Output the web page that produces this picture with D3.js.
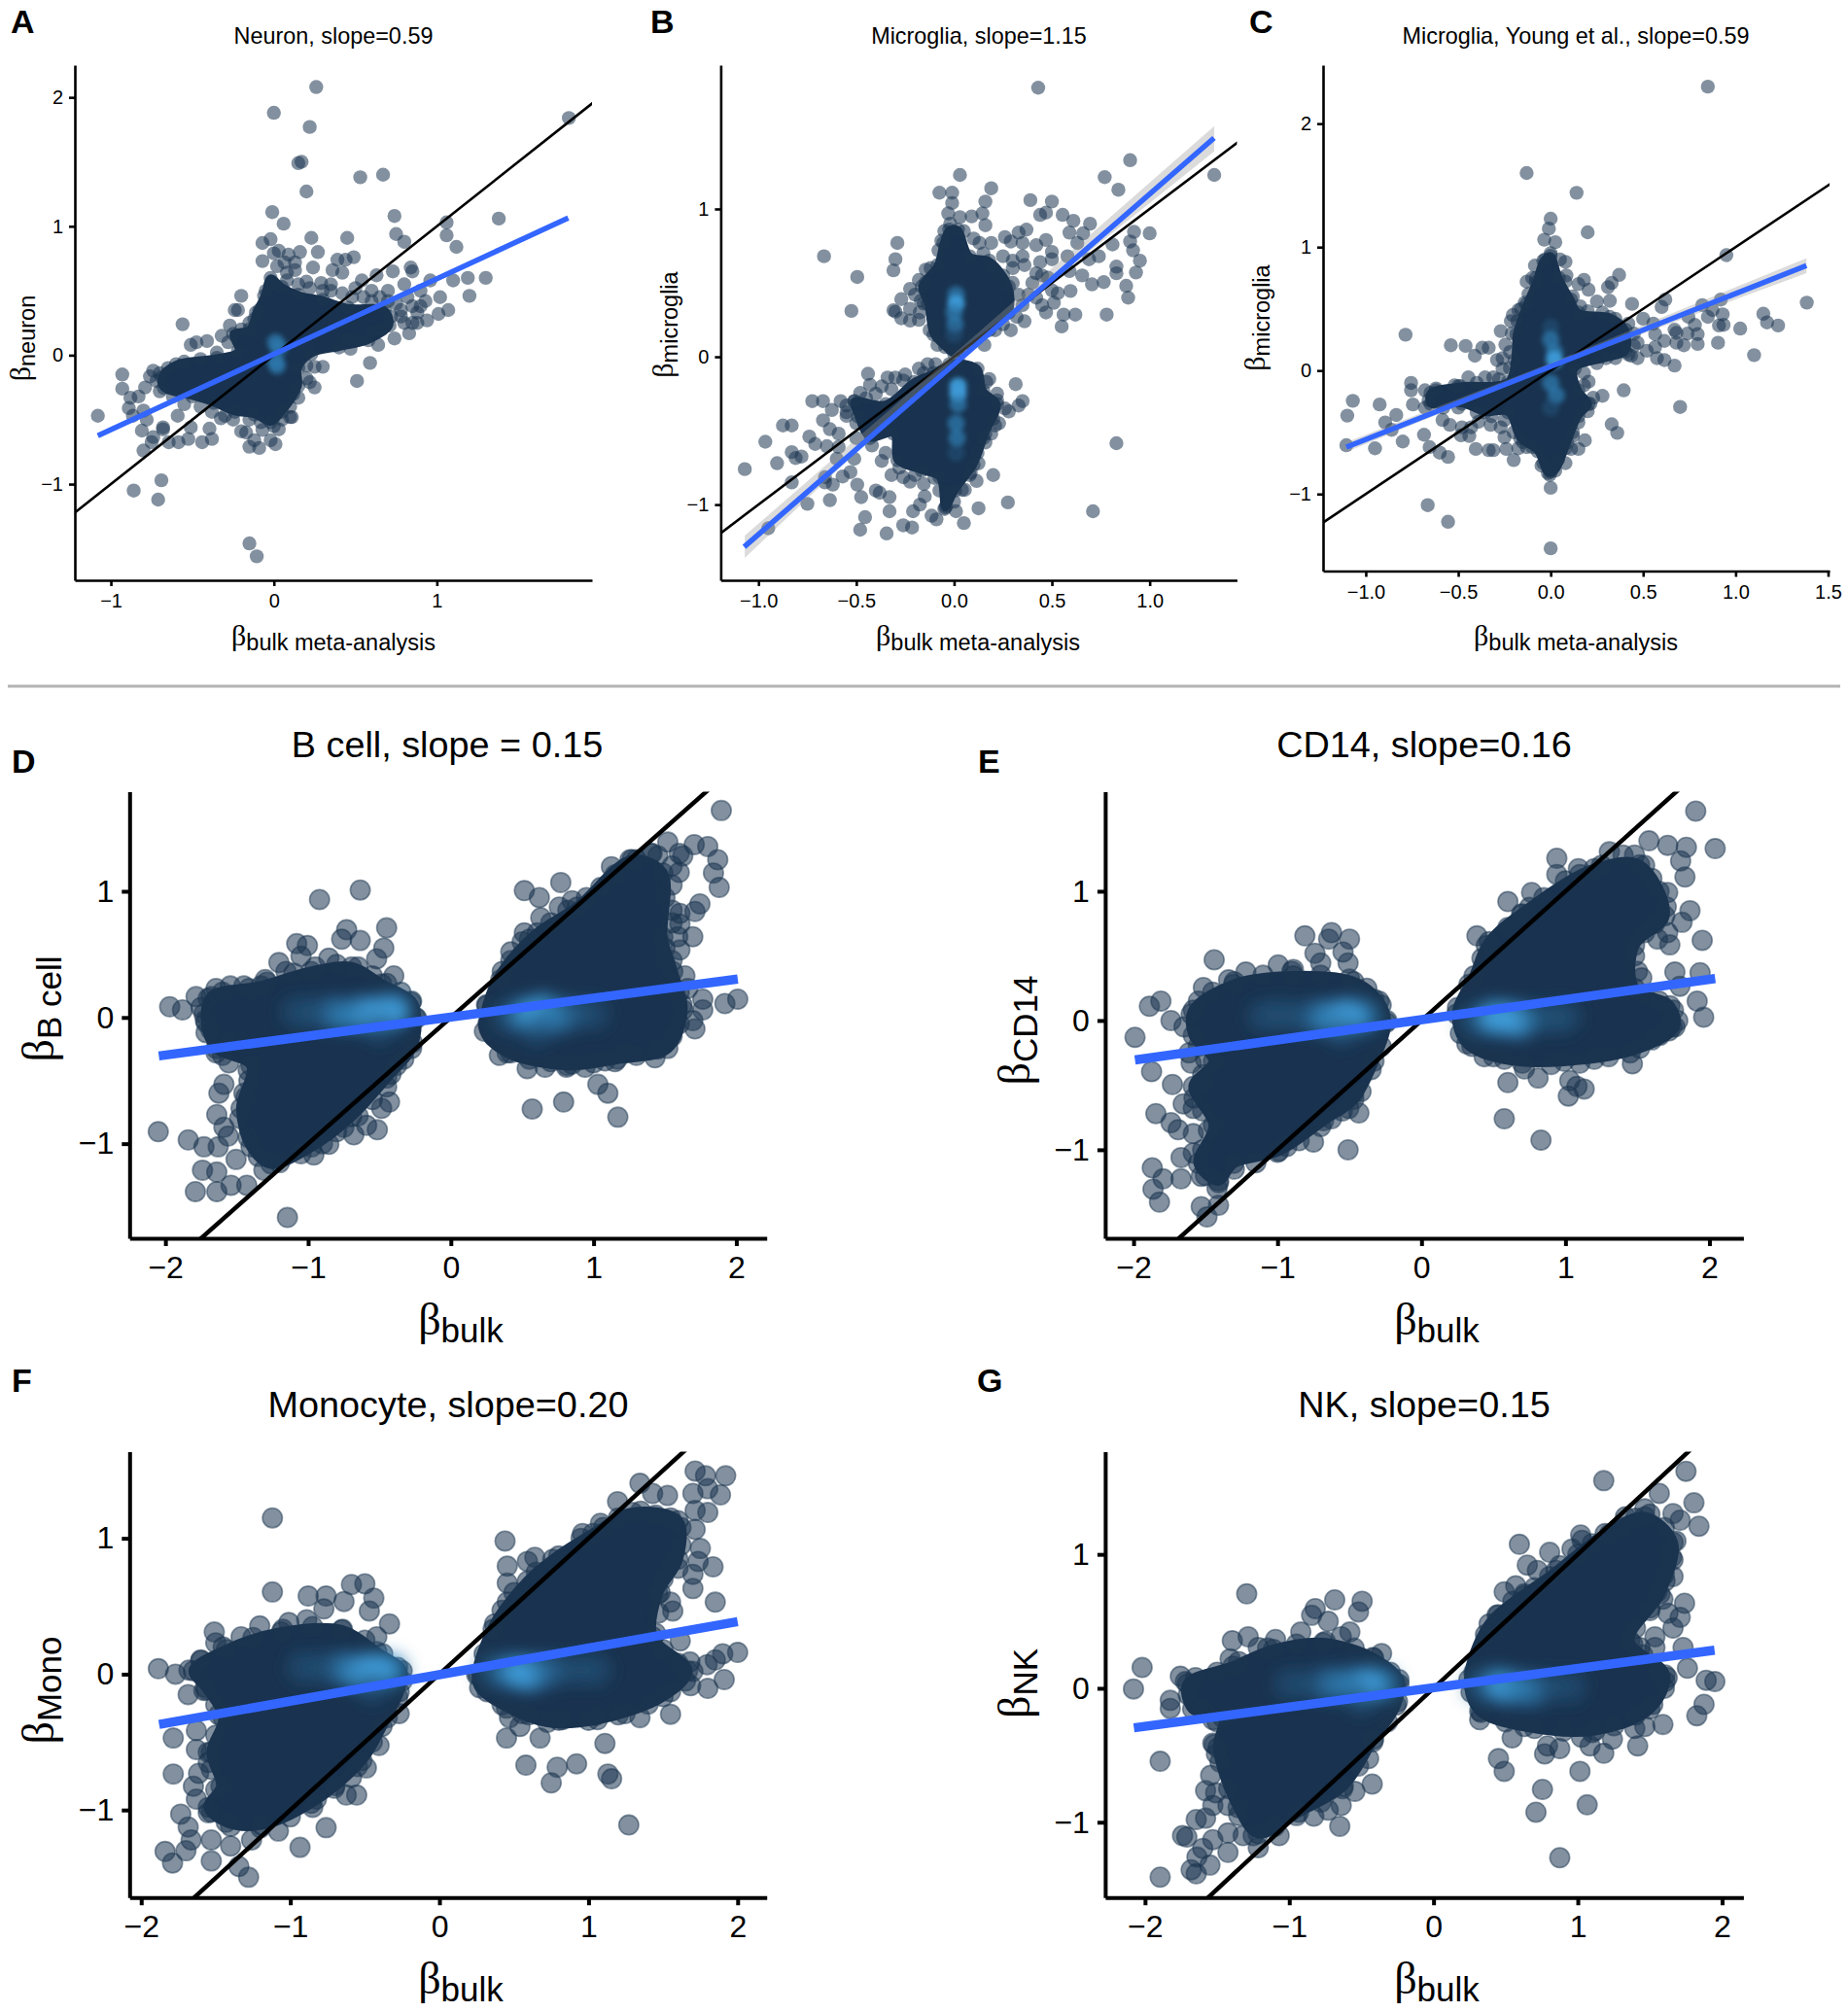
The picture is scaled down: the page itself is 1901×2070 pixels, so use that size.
<!DOCTYPE html>
<html>
<head>
<meta charset="utf-8">
<script src="https://cdn.jsdelivr.net/npm/d3@7"></script>
<style>
  html, body { margin: 0; background: #fff; }
  text { font-family: "Liberation Sans", Arial, sans-serif; fill: #000; }
  .beta { font-family: "Liberation Serif", serif; }
</style>
</head>
<body>
<svg id="fig" width="1901" height="2070"></svg>
<script>
// all values, [beta bulk, beta cell type]

// A
var neuronPoints = [[.26,2.08],[0,1.88],[.22,1.77],[.15,1.49],[.17,1.5],[.53,1.38],[.67,1.4],[.2,1.27],[1.81,1.84],[-.01,1.11],[.06,1.02],[.74,1.08],[1.06,1.03],[1.38,1.06],[.75,.94],[1.06,.93],[.8,.88],[1.12,.84],[.23,.91],[.45,.91],[-.07,.87],[-.02,.9],[0,.79],[.03,.81],[.09,.78],[.16,.8],[.27,.8],[-.07,.73],[.02,.69],[.065,.72],[.13,.72],[.24,.68],[.39,.74],[.44,.74],[.49,.76],[.36,.66],[.42,.64],[.08,.64],[.13,.66],[.2,.57],[.29,.56],[.54,.58],[.63,.62],[.73,.65],[.84,.68],[.85,.65],[.96,.58],[1.1,.58],[1.19,.6],[1.3,.6],[1.2,.46],[1.02,.45],[1.07,.35],[.93,.42],[.94,.27],[1.01,.32],[.88,.33],[.83,.17],[.74,.13],[.64,.08],[.59,-.06],[.51,-.2],[.47,.05],[.3,-.09],[.25,-.09],[.25,-.25],[.22,-.21],[.15,-.33],[.11,-.48],[-.2,.46],[-.24,.35],[-.22,.35],[-.09,.35],[-.27,.23],[-.56,.24],[-.51,.08],[-.475,.1],[-.41,.11],[-.32,.15],[-.93,-.15],[-.93,-.26],[-1.08,-.47],[-.74,-.12],[-.76,-.165],[-.79,-.25],[-.83,-.32],[-.88,-.33],[-.89,-.41],[-.8,-.43],[-.865,-.47],[-.78,-.5],[-.81,-.585],[-.74,-.635],[-.75,-.675],[-.68,-.56],[-.68,-.575],[-.8,-.74],[-.645,-.675],[-.585,-.675],[-.525,-.65],[-.44,-.675],[-.38,-.65],[-.395,-.57],[-.51,-.56],[-.59,-.47],[-.325,-.49],[-.2,-.59],[-.17,-.6],[-.15,-.71],[-.09,-.72],[.01,-.69],[-.02,-.66],[-.12,-.66],[.03,-.575],[-.07,-.58],[.1,-.48],[-.69,-.97],[-.86,-1.05],[-.71,-1.12],[-.15,-1.46],[-.105,-1.56],[.9,.5],[.8,.55],[.7,.5],[.78,.3],[.85,.25],[.6,.5],[.5,.52],[.35,.55],[.55,.45],[.6,.42],[.65,.45],[.7,.42],[.75,.4],[.78,.35],[.72,.3],[.66,.2],[.6,.18],[.52,.12],[.45,.12],[.35,.5],[.42,.48],[.48,.45],[.3,.5],[.22,.52],[.15,.55],[.08,.58],[-.02,.55],[-.05,.5],[-.12,.28],[-.15,.25],[-.2,.2],[-.28,.1],[-.35,.02],[-.45,-.03],[-.55,-.05],[-.65,-.1],[-.7,-.14],[-.72,-.2],[-.7,-.28],[-.62,-.32],[-.55,-.38],[-.45,-.4],[-.38,-.44],[-.3,-.47],[-.25,-.5],[-.15,-.5],[-.08,-.52],[0,-.55],[.05,-.5],[.1,-.4],[.12,-.3],[.2,-.18],[.2,-.08],[.9,.38],[.85,.38],[.8,.25],[.88,.25],[.82,.45]];
var neuronCloud = [[-.02,.6],[.05,.53],[.15,.47],[.3,.43],[.455,.37],[.68,.35],[.71,.23],[.58,.115],[.4,.06],[.23,.01],[.15,-.1],[.15,-.24],[.05,-.44],[-.02,-.52],[-.12,-.46],[-.24,-.44],[-.37,-.37],[-.5,-.32],[-.675,-.255],[-.69,-.17],[-.6,-.07],[-.35,-.02],[-.22,.03],[-.25,.165],[-.15,.2],[-.11,.33],[-.06,.46]];
var neuronGlow = [[.01,.1,2],[.03,.06,2],[.01,-.05,2],[.02,-.08,2]];

// B
var microgliaPoints = [[.43,1.82],[.03,1.23],[.19,1.14],[-.075,1.11],[-.01,1.11],[-.01,1.04],[.16,1.05],[.39,1.06],[.5,1.05],[-.03,.97],[.03,.945],[.09,.95],[.145,.97],[.16,.89],[.44,.96],[.47,.975],[.555,.96],[.61,.92],[.695,.9],[.77,1.215],[.9,1.33],[.84,1.13],[1.33,1.23],[.92,.845],[1,.835],[.9,.78],[.915,.72],[.95,.65],[.93,.57],[.83,.61],[.83,.565],[.88,.48],[.89,.4],[.78,.285],[.81,.76],[.74,.68],[.69,.66],[.59,.84],[.66,.835],[.63,.77],[.33,.84],[.37,.86],[.26,.81],[.19,.77],[.13,.77],[-.065,.785],[.47,.79],[.42,.755],[.35,.77],[.29,.78],[.5,.71],[.5,.66],[.44,.64],[.36,.62],[.3,.65],[.58,.68],[.59,.58],[.655,.55],[.705,.49],[.765,.505],[.595,.445],[.53,.43],[.56,.285],[.62,.285],[.55,.205],[.47,.3],[.51,.365],[.42,.565],[.48,.535],[.36,.24],[.29,.18],[.21,.18],[.155,.08],[-.29,.77],[-.3,.66],[-.31,.585],[-.665,.68],[-.495,.54],[-.525,.31],[-.145,.59],[-.145,.505],[-.225,.46],[-.27,.39],[-.31,.315],[-.3,.305],[-.225,.325],[-.27,.26],[-.225,.245],[-.175,.3],[-.155,.36],[-.125,.18],[-.085,.08],[-.44,-.115],[-.135,-.05],[-.095,-.05],[-.155,-.11],[-.34,-.14],[-.3,-.14],[-.26,-.16],[-.43,-.19],[-.37,-.2],[-.48,-.245],[-.51,-.3],[-.725,-.3],[-.67,-.3],[-.58,-.3],[-.625,-.36],[-.55,-.375],[-.67,-.43],[-.875,-.465],[-.83,-.465],[-.74,-.54],[-.635,-.49],[-.59,-.52],[-.965,-.575],[-.71,-.59],[-.65,-.605],[-.59,-.61],[-.83,-.645],[-.78,-.675],[-.81,-.685],[-.905,-.72],[-1.07,-.76],[-.6,-.69],[-.51,-.69],[-.53,-.78],[-.57,-.81],[-.66,-.815],[-.83,-.85],[-.66,-.85],[-.62,-.865],[-.495,-.865],[-.475,-.95],[-.4,-.905],[-.38,-.92],[-.33,-.95],[-.635,-.97],[-.75,-.995],[-.95,-1.16],[-.33,-1.045],[-.455,-1.085],[-.48,-1.17],[-.345,-1.195],[-.26,-1.14],[-.215,-1.155],[-.21,-1.045],[-.175,-1],[-.15,-.945],[-.115,-1.075],[-.09,-1.1],[.01,-1.045],[.05,-1.125],[.125,-1.025],[.275,-.985],[-.04,-1.01],[-.075,-.905],[.055,-.9],[.2,-.8],[.115,-.84],[.125,-.72],[.085,-.785],[-.155,-.86],[-.225,-.845],[-.26,-.815],[-.32,-.8],[-.37,-.705],[.83,-.585],[.71,-1.045],[.165,-.17],[.315,-.185],[.35,-.3],[.33,-.33],[.28,-.37],[.23,-.45],[.21,-.465],[.22,-.295],[.19,-.52],[.16,-.58],[.2,.6],[.25,.55],[.3,.5],[.33,.42],[.35,.35],[.32,.27],[.38,.42],[.42,.4],[.45,.35],[.5,.45],[.4,.5],[.45,.55],[.3,.6],[.25,.68],[.35,.68],[.15,.7],[.1,.8],[.05,.85],[-.02,.9],[-.05,.85],[-.08,.72],[-.12,.6],[-.18,.52],[-.2,.42],[-.17,.38],[-.18,.25],[-.1,.22],[-.05,.1],[.02,.05],[.1,.12],[.25,.22],[.18,-.15],[.22,-.25],[.26,-.35],[.2,-.42],[.15,-.55],[.12,-.65],[.08,-.8],[.04,-.9],[0,-.98],[-.05,-1.03],[-.03,-.92],[-.1,-.82],[-.2,-.8],[-.28,-.75],[-.35,-.65],[-.42,-.6],[-.5,-.55],[-.5,-.45],[-.55,-.4],[-.55,-.33],[-.45,-.28],[-.4,-.25],[-.32,-.22],[-.25,-.12],[-.18,-.08]];
var microgliaCloudUp = [[.02,.86],[.08,.68],[.18,.65],[.28,.475],[.28,.3],[.18,.18],[.08,.095],[0,.02],[-.045,.065],[-.105,.15],[-.135,.36],[-.165,.475],[-.085,.62],[-.055,.77],[-.025,.86]];
var microgliaCloudDown = [[.025,-.04],[.12,-.08],[.15,-.23],[.22,-.32],[.16,-.52],[.1,-.73],[.005,-.905],[-.045,-1.02],[-.075,-.815],[-.165,-.77],[-.29,-.7],[-.31,-.52],[-.43,-.55],[-.49,-.405],[-.51,-.3],[-.35,-.32],[-.205,-.17],[-.105,-.11],[-.025,-.05]];
var microgliaGlow = [[.01,.42,2],[.01,.36,3],[0,.3,2],[.005,.22,2],[0,.15,1],[.02,-.2,3],[.02,-.25,3],[.02,-.32,2],[.01,-.45,2],[.015,-.55,2],[.01,-.65,1]];
var microgliaBand = [[-1.07,-1.36,-1.21],[0,-.02,.02],[1.33,1.39,1.56]];

// C
var youngPoints = [[.85,2.3],[-.13,1.6],[.14,1.44],[.2,1.12],[0,1.23],[-.01,1.15],[-.035,1.06],[.025,1.04],[.95,.935],[.08,.88],[-.085,.85],[-.13,.72],[-.1,.75],[.085,.77],[.18,.735],[.205,.655],[.15,.7],[.37,.775],[.33,.71],[.31,.675],[.25,.56],[.32,.565],[.44,.54],[.62,.575],[.6,.515],[.82,.53],[.92,.575],[.93,.455],[.85,.435],[.875,.49],[.745,.435],[1.15,.46],[1.17,.39],[1.23,.365],[1.385,.55],[1.025,.34],[1.1,.125],[.935,.37],[.91,.365],[.905,.225],[.78,.37],[.795,.295],[.795,.215],[.74,.3],[.72,.205],[.67,.33],[.68,.305],[.67,.04],[.615,.085],[.575,.1],[.565,.295],[.615,.24],[.52,.16],[.47,.1],[.5,.42],[.555,.38],[.435,.12],[.47,.225],[.68,.225],[.565,.19],[-.27,.32],[-.245,.21],[-.46,.2],[-.54,.205],[-.37,.185],[-.335,.185],[-.41,.12],[-.785,.29],[-.29,.085],[-.26,.1],[-.26,.015],[-.205,.45],[-.215,.4],[-.175,.49],[-.445,-.055],[-.355,-.055],[-.31,-.055],[-.5,-.125],[-.62,-.145],[-.68,-.16],[-.755,-.1],[-.755,-.16],[-.745,-.275],[-.68,-.3],[-1.07,-.245],[-.925,-.275],[-1.1,-.365],[-.835,-.36],[-.895,-.42],[-.86,-.48],[-.585,-.4],[-.545,-.44],[-1.105,-.605],[-.95,-.63],[-.8,-.575],[-.685,-.52],[-.655,-.62],[-.6,-.665],[-.555,-.7],[-.485,-.525],[-.44,-.53],[-.48,-.46],[-.43,-.46],[-.39,-.415],[-.405,-.635],[-.335,-.645],[-.31,-.645],[-.24,-.635],[-.2,-.725],[-.25,-.54],[-.325,-.44],[-.27,-.46],[-.175,-.63],[-.13,-.62],[-.05,-.77],[.08,-.75],[.11,-.635],[.15,-.635],[.185,-.565],[.12,-.53],[.33,-.435],[.36,-.505],[.28,-.205],[.395,-.16],[.205,-.09],[.215,-.27],[.7,-.295],[-.665,-1.09],[-.555,-1.225],[0,-.95],[0,-1.44],[-.005,-.845],[.05,.9],[0,.95],[-.03,.9],[-.08,.75],[.08,.72],[-.12,.62],[.12,.6],[-.16,.5],[.16,.52],[.2,.48],[.28,.47],[.35,.42],[.42,.38],[.45,.3],[.45,.2],[.42,.13],[.35,.1],[.25,.06],[.18,-.02],[.18,-.12],[.23,-.22],[.2,-.33],[.15,-.42],[.12,-.5],[.08,-.63],[.04,-.72],[0,-.82],[-.04,-.75],[-.1,-.62],[-.15,-.58],[-.2,-.5],[-.25,-.4],[-.32,-.37],[-.4,-.34],[-.5,-.3],[-.58,-.3],[-.66,-.24],[-.62,-.16],[-.52,-.12],[-.4,-.1],[-.28,-.07],[-.22,.02],[-.22,.15],[-.21,.3],[-.18,.4],[-.14,.55]];
var youngCloud = [[0,.93],[.045,.75],[.11,.575],[.15,.47],[.32,.435],[.405,.33],[.405,.155],[.3,.1],[.13,.015],[.15,-.16],[.205,-.27],[.15,-.37],[.09,-.585],[.025,-.81],[-.015,-.83],[-.07,-.655],[-.165,-.55],[-.23,-.34],[-.355,-.34],[-.48,-.27],[-.65,-.27],[-.65,-.18],[-.49,-.125],[-.23,-.09],[-.195,.085],[-.185,.295],[-.13,.54],[-.08,.715],[-.04,.89]];
var youngGlow = [[0,.35,1],[0,.25,2],[.02,.15,2],[.02,.09,3],[0,-.1,2],[.03,-.2,2],[0,-.3,1]];
var youngBand = [[-1.105,-.66,-.58],[0,.02,.06],[1.383,.79,.91]];

// D
var bCellPoints = [[1.895,1.64],[1.52,1.39],[1.705,1.37],[1.8,1.355],[1.87,1.25],[1.84,1.145],[1.88,1.03],[1.41,1.3],[1.625,1.28],[1.125,1.195],[1.255,1.25],[.77,1.07],[.515,1.005],[.62,.95],[.85,.925],[.76,.875],[1.745,.9],[1.605,.825],[1.71,.84],[1.695,.64],[1.605,.74],[1.605,.535],[1.59,.64],[.63,.79],[.515,.67],[.42,.52],[.5,.6],[1.64,.33],[1.66,.23],[1.5,.435],[1.765,.145],[1.765,.06],[1.92,.11],[2.01,.145],[1.695,-.025],[1.71,-.09],[1.43,-.32],[1.22,-.28],[1.08,-.345],[.94,-.395],[.81,-.395],[.66,-.395],[.535,-.405],[.34,-.3],[1.03,-.53],[1.1,-.6],[1.17,-.79],[.79,-.67],[.57,-.725],[-.635,1.01],[-.92,.935],[-.45,.71],[-.73,.695],[-.765,.62],[-.635,.61],[-1.08,.585],[-1.005,.57],[-1.05,.485],[-.47,.55],[-.52,.465],[-.855,.47],[-1.205,.435],[-1.155,.365],[-.4,.33],[-1.29,.28],[-1.415,.23],[-1.545,.25],[-1.645,.23],[-1.785,.165],[-1.97,.085],[-1.88,.06],[-1.73,.03],[-1.715,-.12],[-1.645,-.28],[-1.555,-.36],[-1.59,-.53],[-1.625,-.6],[-1.64,-.77],[-1.415,-.5],[-1.435,-.63],[-2.05,-.905],[-1.84,-.97],[-1.73,-1.025],[-1.63,-1.025],[-1.56,-.94],[-1.59,-.87],[-1.505,-1.125],[-1.74,-1.21],[-1.64,-1.225],[-1.79,-1.38],[-1.64,-1.38],[-1.54,-1.33],[-1.43,-1.33],[-1.31,-1.21],[-1.145,-1.585],[-.96,-1.09],[-.855,-1.005],[-.8,-.905],[-.68,-.93],[-.515,-.89],[-.59,-.855],[-.43,-.67],[-.485,-.72],[-.38,-.38],[-.45,-.55],[1.55,1.2],[1.6,1.15],[1.55,1.05],[1.5,.95],[1.55,.85],[1.55,.75],[1.5,.55],[1.55,.45],[1.6,.2],[1.62,.1],[1.6,-.05],[1.55,-.15],[1.45,-.25],[1.3,-.3],[1.15,-.35],[1,-.36],[.85,-.37],[.7,-.35],[.55,-.33],[.42,-.28],[.3,-.15],[.26,-.05],[.25,.1],[.35,.3],[.42,.45],[.55,.62],[.7,.75],[.82,.85],[.95,.95],[1.05,1.03],[1.15,1.13],[1.3,1.25],[1.4,1.3],[1.6,1.3],[1.45,1.28],[-1.7,.15],[-1.75,.08],[-1.6,.2],[-1.45,.25],[-1.3,.3],[-1.1,.35],[-.95,.4],[-.8,.42],[-.65,.4],[-.55,.33],[-.45,.27],[-.35,.2],[-.28,.12],[-.25,0],[-.27,-.2],[-.33,-.33],[-.42,-.45],[-.55,-.65],[-.65,-.78],[-.75,-.87],[-.9,-1],[-1.05,-1.08],[-1.2,-1.15],[-1.35,-1.1],[-1.42,-.95],[-1.48,-.8],[-1.45,-.6],[-1.42,-.42],[-1.6,-.3],[-1.55,-.2],[-1.68,-.1],[-1.72,-.02]];
var bCellCloudLeft = [[-1.68,.165],[-1.33,.25],[-.98,.365],[-.695,.4],[-.485,.265],[-.275,.13],[-.24,-.005],[-.275,-.245],[-.45,-.48],[-.695,-.785],[-.975,-1.025],[-1.26,-1.16],[-1.4,-1.025],[-1.47,-.72],[-1.4,-.38],[-1.645,-.245],[-1.715,-.04]];
var bCellCloudRight = [[.255,.095],[.36,.365],[.605,.67],[.885,.875],[1.27,1.25],[1.485,1.145],[1.485,.635],[1.555,.365],[1.625,.06],[1.52,-.245],[1.165,-.33],[.815,-.38],[.395,-.28],[.235,-.11]];
var bCellGlow = [[-.4,.05,3],[-.47,.04,3],[-.55,.03,3],[-.62,.03,3],[-.72,.02,2],[-.82,.03,2],[-.95,.04,1],[-1.08,.04,1],[-.5,-.08,1],[.4,0,1],[.5,.02,2],[.58,.03,3],[.65,.05,3],[.7,0,2],[.78,.02,2],[.88,.03,1],[1,.03,1],[.6,-.1,1]];

// E
var cd14Points = [[1.905,1.62],[2.04,1.33],[1.71,1.355],[1.58,1.39],[1.84,1.34],[1.8,1.235],[1.83,1.11],[1.71,.99],[1.305,1.305],[1.48,1.28],[.94,1.255],[.94,1.13],[1.09,1.175],[.765,.99],[.6,.92],[.695,.825],[.385,.655],[1.865,.85],[1.81,.76],[1.71,.68],[1.64,.63],[1.725,.585],[1.95,.62],[1.76,.375],[1.935,.37],[1.795,.265],[1.915,.15],[1.96,.025],[1.53,.33],[1.725,.015],[1.74,-.05],[1.655,-.115],[1.465,-.335],[1.2,-.3],[.715,-.375],[.81,-.445],[.6,-.48],[.435,-.28],[1.03,-.465],[1.13,-.53],[1.02,-.585],[1.08,-.51],[.575,-.76],[.83,-.925],[-.81,.655],[-.625,.68],[-.5,.63],[-.645,.63],[-.74,.52],[-.545,.53],[-.51,.445],[-.7,.445],[-1.44,.47],[-1.22,.375],[-.995,.43],[-.89,.395],[-1.34,.315],[-1.515,.255],[-1.81,.15],[-1.89,.11],[-1.74,0],[-1.99,-.13],[-1.615,-.25],[-1.875,-.395],[-1.73,-.495],[-1.6,-.33],[-1.515,-.48],[-1.845,-.72],[-1.74,-.79],[-1.69,-.845],[-1.585,-.875],[-1.67,-1.06],[-1.585,-1.025],[-1.87,-1.14],[-1.795,-1.225],[-1.67,-1.225],[-1.865,-1.305],[-1.82,-1.405],[-1.53,-1.205],[-1.41,-1.255],[-1.53,-1.44],[-1.41,-1.43],[-1.49,-1.52],[-1.655,-.645],[-1.585,-.68],[-.935,-.975],[-.75,-.94],[-.51,-1],[-.435,-.715],[-.625,-.76],[-.505,-.68],[-.47,-.56],[-.33,.165],[1.25,1.2],[1.4,1.28],[1.55,1.2],[1.6,1.1],[1.65,1],[1.7,.88],[1.62,.75],[1.55,.68],[1.48,.5],[1.5,.38],[1.55,.2],[1.65,.15],[1.75,.08],[1.78,0],[1.72,-.08],[1.6,-.15],[1.45,-.25],[1.3,-.28],[1.1,-.33],[.9,-.34],[.7,-.33],[.5,-.28],[.35,-.2],[.27,-.1],[.25,.1],[.33,.28],[.42,.48],[.45,.58],[.6,.72],[.7,.82],[.85,.95],[1,1.08],[1.1,1.13],[-1.55,.15],[-1.6,.05],[-1.65,-.05],[-1.45,.22],[-1.3,.3],[-1.1,.35],[-.9,.38],[-.7,.35],[-.5,.32],[-.38,.25],[-.28,.12],[-.24,0],[-.28,-.2],[-.35,-.38],[-.42,-.55],[-.55,-.7],[-.7,-.82],[-.85,-.93],[-1,-1.02],[-1.15,-1.1],[-1.3,-1.15],[-1.42,-1.3],[-1.5,-1.2],[-1.52,-1],[-1.48,-.85],[-1.52,-.7],[-1.58,-.6],[-1.52,-.42],[-1.5,-.3],[-1.55,-.2]];
var cd14CloudLeft = [[-1.585,.08],[-1.305,.28],[-.89,.345],[-.47,.3],[-.295,.15],[-.245,-.015],[-.33,-.315],[-.47,-.61],[-.68,-.775],[-.99,-1.01],[-1.305,-1.105],[-1.41,-1.24],[-1.55,-1.105],[-1.445,-.81],[-1.585,-.51],[-1.445,-.315],[-1.585,-.115]];
var cd14CloudRight = [[.245,.05],[.365,.345],[.47,.61],[.75,.875],[1.2,1.175],[1.515,1.205],[1.69,.81],[1.48,.58],[1.48,.25],[1.725,.115],[1.76,-.05],[1.515,-.215],[.99,-.315],[.575,-.3],[.315,-.18]];
var cd14Glow = [[-.4,.03,2],[-.5,.04,3],[-.56,.03,3],[-.62,.02,3],[-.72,.03,2],[-.85,.03,1],[-.98,.05,1],[-1.1,.03,1],[-.55,-.08,1],[.36,0,1],[.47,.02,2],[.53,.02,3],[.6,.01,3],[.68,0,3],[.78,.02,1],[.9,.02,1],[1,.03,1]];

// F
var monoPoints = [[1.715,1.495],[1.785,1.46],[1.92,1.46],[1.345,1.405],[1.43,1.33],[1.53,1.315],[1.7,1.33],[1.8,1.365],[1.885,1.32],[1.195,1.27],[1.715,1.205],[1.8,1.19],[1.715,1.065],[1.08,1.11],[.96,1.035],[.44,.98],[.455,.795],[.64,.86],[.59,.83],[1.75,.925],[1.835,.79],[1.735,.83],[1.7,.735],[1.7,.63],[1.6,.78],[1.85,.53],[1.55,.53],[1.565,.465],[.455,.67],[.455,.53],[1.615,.245],[1.68,.09],[1.795,.07],[1.9,.15],[2,.16],[1.85,.105],[1.91,-.04],[1.8,-.105],[1.685,-.085],[1.55,-.295],[1.345,-.32],[1.245,-.29],[1.045,-.305],[.825,-.335],[.555,-.29],[.47,-.32],[.54,-.385],[.45,-.47],[.675,-.47],[1.11,-.51],[.58,-.67],[.79,-.685],[.75,-.8],[.92,-.66],[1.13,-.735],[1.155,-.77],[1.27,-1.11],[-1.12,1.15],[-1.12,.605],[-.59,.66],[-.5,.665],[-.88,.575],[-.76,.575],[-.64,.535],[-.44,.56],[-.47,.465],[-.775,.48],[-.335,.37],[-.42,.275],[-.89,.4],[-1.01,.38],[-1.205,.355],[-1.51,.31],[-1.33,.275],[-1.5,.23],[-1.885,.04],[-1.77,0],[-1.685,-.15],[-1.6,.105],[-1.565,-.115],[-1.5,-.225],[-1.63,-.415],[-1.785,-.47],[-1.63,-.555],[-1.785,-.735],[-1.615,-.73],[-1.65,-.825],[-1.63,-.92],[-1.55,-.575],[-1.53,-.7],[-1.735,-1.03],[-1.685,-1.125],[-1.665,-1.22],[-1.7,-1.3],[-1.84,-1.305],[-1.79,-1.39],[-1.53,-1.015],[-1.53,-1.22],[-1.53,-1.375],[-1.4,-1.265],[-1.345,-1.415],[-1.28,-1.495],[-1.26,-1.22],[-1.08,-1.155],[-.935,-1.275],[-.76,-1.13],[-.825,-.92],[-.705,-.84],[-.625,-.89],[-.555,-.89],[-.59,-.76],[-.49,-.69],[-.405,-.525],[-.27,-.29],[1.35,1.2],[1.45,1.17],[1.55,1.15],[1.62,1.08],[1.62,.95],[1.55,.82],[1.5,.7],[1.48,.6],[1.47,.45],[1.45,.3],[1.5,.18],[1.6,.08],[1.7,.02],[1.65,-.05],[1.55,-.13],[1.4,-.22],[1.2,-.3],[1,-.34],[.8,-.34],[.6,-.3],[.45,-.25],[.32,-.13],[.26,0],[.3,.15],[.36,.33],[.42,.47],[.5,.6],[.65,.75],[.8,.87],[.95,1],[1.1,1.08],[1.2,1.15],[-1.68,.03],[-1.6,.1],[-1.45,.2],[-1.25,.27],[-1.05,.33],[-.85,.35],[-.65,.33],[-.5,.25],[-.38,.15],[-.28,.05],[-.25,-.05],[-.28,-.17],[-.35,-.32],[-.45,-.5],[-.55,-.68],[-.7,-.82],[-.85,-.98],[-1,-1.05],[-1.2,-1.13],[-1.4,-1.12],[-1.55,-1.02],[-1.5,-.85],[-1.55,-.65],[-1.5,-.45],[-1.48,-.3],[-1.58,-.12]];
var monoCloudLeft = [[-1.65,.025],[-1.43,.18],[-1.06,.31],[-.655,.325],[-.42,.165],[-.25,.025],[-.27,-.13],[-.385,-.385],[-.52,-.635],[-.86,-.95],[-1.195,-1.11],[-1.43,-1.09],[-1.55,-.98],[-1.465,-.825],[-1.53,-.575],[-1.45,-.32],[-1.565,-.1]];
var monoCloudRight = [[.25,-.005],[.37,.37],[.59,.685],[.76,.845],[1.03,1.035],[1.295,1.19],[1.6,1.13],[1.6,.845],[1.465,.59],[1.43,.275],[1.665,.025],[1.5,-.165],[1.06,-.335],[.725,-.355],[.42,-.225],[.27,-.1]];
var monoGlow = [[-.32,.03,2],[-.4,.03,3],[-.47,.03,3],[-.55,.02,3],[-.65,.04,2],[-.78,.05,1],[-.92,.05,1],[-.45,-.1,1],[.35,.03,1],[.45,.02,2],[.55,.01,3],[.6,0,3],[.7,.02,2],[.78,.03,1],[.92,.03,1],[1.05,.03,1]];

// G
var nkPoints = [[1.18,1.55],[1.75,1.62],[1.565,1.455],[1.805,1.385],[1.465,1.34],[1.66,1.305],[1.71,1.255],[1.84,1.21],[1.33,1.28],[.595,1.075],[.805,1.015],[1.02,1.145],[.96,1.04],[.65,.92],[.72,.88],[.875,.915],[1.03,1.105],[1.625,1.025],[1.66,.96],[1.66,.835],[1.605,.8],[.49,.72],[.57,.765],[.44,.545],[.49,.515],[.63,.69],[1.59,.665],[1.74,.635],[1.625,.56],[1.71,.53],[1.66,.45],[1.5,.58],[1.535,.385],[1.43,.305],[1.535,.305],[1.73,.305],[1.76,.15],[1.605,.05],[1.89,.06],[1.95,.05],[1.875,-.12],[1.825,-.205],[1.59,-.27],[1.465,-.285],[1.395,-.3],[1.415,-.43],[1.24,-.38],[1.18,-.485],[1.085,-.43],[1.025,-.365],[.875,-.45],[.77,-.49],[.79,-.43],[.545,-.37],[.45,-.525],[.49,-.62],[.32,-.235],[1.015,-.62],[1.065,-.87],[.755,-.755],[.71,-.925],[.875,-1.265],[-1.295,.705],[-.685,.66],[-.495,.65],[-.82,.595],[-.845,.545],[-.73,.5],[-.52,.57],[-.58,.42],[-.64,.385],[-.92,.42],[-1.095,.365],[-1.285,.385],[-1.395,.355],[-1.215,.305],[-.36,.26],[-1.41,.22],[-2.02,.155],[-2.08,-.005],[-1.755,.09],[-1.825,-.09],[-1.825,-.15],[-1.895,-.545],[-.26,.035],[-1.53,-.235],[-1.53,-.41],[-1.505,-.49],[-1.545,-.65],[-1.58,-.765],[-1.51,-.78],[-1.53,-.875],[-1.645,-.98],[-1.425,-.875],[-1.58,-.97],[-1.74,-1.1],[-1.71,-1.11],[-1.53,-1.13],[-1.6,-1.195],[-1.64,-1.26],[-1.68,-1.355],[-1.645,-1.385],[-1.55,-1.32],[-1.425,-1.225],[-1.425,-1.08],[-1.895,-1.41],[-1.215,-1.19],[-1.07,-1.1],[-1.32,-1.1],[-.83,-.955],[-.65,-1.03],[-.64,-.875],[-.73,-.91],[-.545,-.77],[-.425,-.715],[-.45,-.525],[1.3,1.2],[1.4,1.27],[1.5,1.3],[1.6,1.2],[1.68,1.1],[1.65,.98],[1.6,.85],[1.55,.72],[1.5,.6],[1.4,.45],[1.38,.33],[1.45,.25],[1.55,.12],[1.62,.08],[1.6,0],[1.52,-.12],[1.4,-.2],[1.25,-.28],[1.1,-.33],[.9,-.32],[.7,-.3],[.5,-.25],[.33,-.18],[.26,-.03],[.28,.12],[.36,.4],[.45,.55],[.55,.65],[.7,.75],[.85,.88],[1,1],[1.1,1.08],[1.22,1.15],[-1.72,.05],[-1.65,.08],[-1.5,.12],[-1.35,.2],[-1.15,.3],[-.95,.33],[-.75,.35],[-.55,.3],[-.42,.23],[-.3,.12],[-.24,.03],[-.25,-.1],[-.32,-.25],[-.42,-.4],[-.52,-.58],[-.63,-.75],[-.78,-.85],[-.95,-.95],[-1.1,-1.03],[-1.25,-1.1],[-1.35,-.95],[-1.42,-.75],[-1.48,-.55],[-1.52,-.42],[-1.5,-.25],[-1.6,-.15],[-1.7,-.05]];
var nkCloudLeft = [[-1.705,.035],[-1.39,.165],[-1.11,.29],[-.765,.34],[-.415,.225],[-.24,.065],[-.26,-.125],[-.415,-.38],[-.625,-.73],[-.935,-.925],[-1.215,-1.085],[-1.355,-.89],[-1.495,-.445],[-1.46,-.22],[-1.67,-.155]];
var nkCloudRight = [[.245,.065],[.385,.48],[.63,.705],[.805,.835],[1.19,1.155],[1.465,1.28],[1.66,1.09],[1.57,.705],[1.36,.355],[1.605,.1],[1.5,-.155],[1.12,-.315],[.63,-.285],[.32,-.17]];
var nkGlow = [[-.35,.03,2],[-.45,.03,3],[-.5,.03,3],[-.6,.03,2],[-.72,.03,2],[-.85,.03,1],[-1,.03,1],[-.5,-.08,1],[.32,.02,1],[.42,.03,2],[.5,.01,3],[.58,0,2],[.68,-.01,2],[.8,.01,1],[.95,.01,1]];

var topTicks = [-1, -0.5, 0, 0.5, 1, 1.5];

var panels = [
  {letter: "A", lx: 11, ly: 34, title: "Neuron, slope=0.59", tx: 343, ty: 45, sub: "neuron", small: true,
    box: [77, 609, 597, 67], xDom: [-1.221, 1.952], yDom: [-1.746, 2.25],
    xTicks: [-1, 0, 1], yTicks: [-1, 0, 1, 2], fmt: "d",
    points: neuronPoints, clouds: [neuronCloud], glow: neuronGlow,
    fit: [[-1.08, -.625], [1.806, 1.065]], xlx: 343, xly: 664, ylx: 31, yly: 348},
  {letter: "B", lx: 669, ly: 34, title: "Microglia, slope=1.15", tx: 1007, ty: 45, sub: "microglia", small: true,
    box: [741.4, 1272.4, 597, 67], xDom: [-1.193, 1.446], yDom: [-1.512, 1.973],
    xTicks: topTicks.slice(0, 5), yTicks: [-1, 0, 1], fmt: ".1f",
    points: microgliaPoints, clouds: [microgliaCloudUp, microgliaCloudDown], glow: microgliaGlow, band: microgliaBand,
    fit: [[-1.073, -1.286], [1.329, 1.48]], xlx: 1006, xly: 664, ylx: 692, yly: 334},
  {letter: "C", lx: 1285, ly: 34, title: "Microglia, Young et al., slope=0.59", tx: 1621, ty: 45, sub: "microglia", small: true,
    box: [1361, 1882, 587.5, 67], xDom: [-1.231, 1.508], yDom: [-1.624, 2.474],
    xTicks: topTicks, yTicks: [-1, 0, 1, 2], fmt: ".1f",
    points: youngPoints, clouds: [youngCloud], glow: youngGlow, band: youngBand,
    fit: [[-1.105, -.62], [1.383, .85]], xlx: 1621, xly: 664, ylx: 1301, yly: 327},
  {letter: "D", lx: 12, ly: 795, title: "B cell, slope = 0.15", tx: 460, ty: 779, sub: "B cell",
    box: [133.3, 788.7, 1274, 814.4], xDom: [-2.251, 2.213], yDom: [-1.75, 1.79],
    xTicks: [-2, -1, 0, 1, 2], yTicks: [-1, 0, 1], fmt: "d",
    points: bCellPoints, clouds: [bCellCloudLeft, bCellCloudRight], glow: bCellGlow,
    fit: [[-2.046, -.305], [2.01, .305]], xlx: 474, xly: 1373, ylx: 55, yly: 1038},
  {letter: "E", lx: 1006, ly: 795, title: "CD14, slope=0.16", tx: 1465, ty: 779, sub: "CD14",
    box: [1136.9, 1793.4, 1274, 814.4], xDom: [-2.197, 2.236], yDom: [-1.685, 1.771],
    xTicks: [-2, -1, 0, 1, 2], yTicks: [-1, 0, 1], fmt: "d",
    points: cd14Points, clouds: [cd14CloudLeft, cd14CloudRight], glow: cd14Glow,
    fit: [[-1.99, -.305], [2.04, .325]], xlx: 1478, xly: 1373, ylx: 1059, yly: 1060},
  {letter: "F", lx: 12, ly: 1432, title: "Monocyte, slope=0.20", tx: 461, ty: 1458, sub: "Mono",
    box: [133.3, 788.7, 1952.2, 1493.6], xDom: [-2.078, 2.195], yDom: [-1.644, 1.637],
    xTicks: [-2, -1, 0, 1, 2], yTicks: [-1, 0, 1], fmt: "d",
    points: monoPoints, clouds: [monoCloudLeft, monoCloudRight], glow: monoGlow,
    fit: [[-1.88, -.37], [2, .387]], xlx: 474, xly: 2051, ylx: 55, yly: 1739},
  {letter: "G", lx: 1005, ly: 1432, title: "NK, slope=0.15", tx: 1465, ty: 1458, sub: "NK",
    box: [1136.9, 1793.4, 1952.2, 1493.6], xDom: [-2.276, 2.148], yDom: [-1.562, 1.766],
    xTicks: [-2, -1, 0, 1, 2], yTicks: [-1, 0, 1], fmt: "d",
    points: nkPoints, clouds: [nkCloudLeft, nkCloudRight], glow: nkGlow,
    fit: [[-2.077, -.295], [1.948, .285]], xlx: 1478, xly: 2051, ylx: 1059, yly: 1732}
];

var svg = d3.select("#fig");
var defs = svg.append("defs");
[["softS", 2.5], ["softL", 8]].forEach(function(f){
  defs.append("filter").attr("id", f[0]).attr("x", "-50%").attr("y", "-50%").attr("width", "200%").attr("height", "200%")
    .append("feGaussianBlur").attr("stdDeviation", f[1]);
});

var glowColor = {1: "#24587f", 2: "#2f79ad", 3: "#3d9ad6"};
var glowAlpha = {1: .5, 2: .75, 3: .95};

// separator between the two rows
svg.append("line")
  .attr("x1", 8).attr("x2", 1893).attr("y1", 706).attr("y2", 706)
  .attr("stroke", "#b3b3b3").attr("stroke-width", 3);

function betaLabel(g, sub, small, x, y, rotate){
  var t = g.append("text")
    .attr("text-anchor", "middle")
    .attr("transform", "translate(" + x + "," + y + ")" + (rotate ? " rotate(-90)" : ""));
  t.append("tspan").attr("class", "beta").attr("font-size", small ? 30 : 46).text("β");
  t.append("tspan").attr("font-size", small ? 23.5 : 35).attr("dy", small ? 5 : 8).text(sub);
}

panels.forEach(function(p, i){
  var small = p.small,
    r = small ? 7.2 : 10.2,
    x = d3.scaleLinear().domain(p.xDom).range([p.box[0], p.box[1]]),
    y = d3.scaleLinear().domain(p.yDom).range([p.box[2], p.box[3]]),
    g = svg.append("g").attr("class", "panel");

  var line = d3.line().x(function(d){ return x(d[0]); }).y(function(d){ return y(d[1]); });
  var outline = d3.line().x(function(d){ return x(d[0]); }).y(function(d){ return y(d[1]); })
    .curve(d3.curveCatmullRomClosed.alpha(.5));

  defs.append("clipPath").attr("id", "clip" + i).append("rect")
    .attr("x", p.box[0]).attr("y", p.box[3])
    .attr("width", p.box[1] - p.box[0]).attr("height", p.box[2] - p.box[3]);

  // dense part of the cloud: the outline, with a point on each outline vertex
  g.append("g").selectAll("path").data(p.clouds).enter().append("path")
    .attr("d", outline)
    .attr("fill", "#19324f")
    .attr("stroke", "#19324f")
    .attr("stroke-width", r)
    .attr("stroke-linejoin", "round");

  var edge = d3.merge(p.clouds);
  g.append("g").selectAll("circle").data(edge.concat(p.points)).enter().append("circle")
    .attr("cx", function(d){ return x(d[0]); })
    .attr("cy", function(d){ return y(d[1]); })
    .attr("r", r)
    .attr("fill", "#1b3550")
    .attr("fill-opacity", .55)
    .attr("stroke", small ? "none" : "#1b3550")
    .attr("stroke-opacity", .5)
    .attr("stroke-width", 1.6);

  // lighter patches where the points pile up
  var glow = g.append("g").attr("filter", small ? "url(#softS)" : "url(#softL)");
  glow.selectAll("circle").data(p.glow).enter().append("circle")
    .attr("cx", function(d){ return x(d[0]); })
    .attr("cy", function(d){ return y(d[1]); })
    .attr("r", small ? 9 : 17)
    .attr("fill", function(d){ return glowColor[d[2]]; })
    .attr("fill-opacity", function(d){ return glowAlpha[d[2]]; });

  // identity line
  g.append("path")
    .attr("clip-path", "url(#clip" + i + ")")
    .attr("d", line([[-3, -3], [3, 3]]))
    .attr("stroke", "#000")
    .attr("stroke-width", small ? 2.6 : 4.5)
    .attr("fill", "none");

  if(p.band){
    g.append("path")
      .attr("d", d3.area()
        .x(function(d){ return x(d[0]); })
        .y0(function(d){ return y(d[1]); })
        .y1(function(d){ return y(d[2]); })(p.band))
      .attr("fill", "#999")
      .attr("fill-opacity", .35);
  }

  g.append("path")
    .attr("d", line(p.fit))
    .attr("stroke", "#3366ff")
    .attr("stroke-width", small ? 5.5 : 9.5)
    .attr("fill", "none");

  // axes
  var xAxis = d3.axisBottom(x).tickValues(p.xTicks).tickFormat(d3.format(p.fmt))
      .tickSize(small ? 6 : 8).tickPadding(small ? 8 : 10),
    yAxis = d3.axisLeft(y).tickValues(p.yTicks).tickFormat(d3.format("d"))
      .tickSize(small ? 6 : 8).tickPadding(small ? 6 : 8);

  [[xAxis, "translate(0," + p.box[2] + ")"], [yAxis, "translate(" + p.box[0] + ",0)"]].forEach(function(a){
    var ax = g.append("g").attr("transform", a[1]).call(a[0].tickSizeOuter(0));
    ax.selectAll("path, line").attr("stroke", "#000").attr("stroke-width", small ? 2.6 : 4);
    ax.selectAll("text").attr("font-size", small ? 20 : 32).attr("font-family", "Liberation Sans");
  });

  // texts
  svg.append("text").attr("x", p.lx).attr("y", p.ly)
    .attr("font-size", 34).attr("font-weight", "bold").text(p.letter);
  svg.append("text").attr("x", p.tx).attr("y", p.ty).attr("text-anchor", "middle")
    .attr("font-size", small ? 23.4 : 37.8).text(p.title);

  betaLabel(svg, small ? "bulk meta-analysis" : "bulk", small, p.xlx, p.xly, false);
  betaLabel(svg, p.sub, small, p.ylx, p.yly, true);
});
</script>
</body>
</html>
